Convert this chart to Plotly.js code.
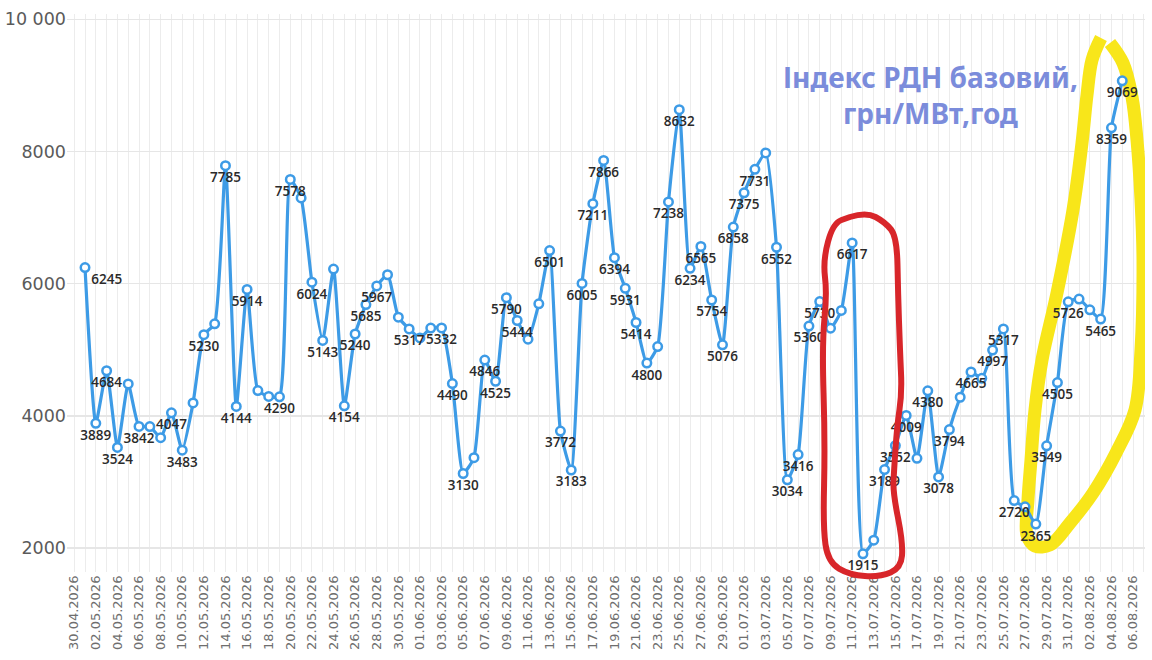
<!DOCTYPE html>
<html>
<head>
<meta charset="utf-8">
<script src="https://cdn.plot.ly/plotly-3.0.1.min.js"></script>
<style>
  html, body { margin: 0; padding: 0; background: #ffffff; }
  #graph { width: 1152px; height: 660px; }
</style>
</head>
<body>
<div id="graph"></div>
<script>
// daily base index, 01.05 - 05.08
var days = [
  '2026-05-01','2026-05-02','2026-05-03','2026-05-04','2026-05-05','2026-05-06','2026-05-07','2026-05-08',
  '2026-05-09','2026-05-10','2026-05-11','2026-05-12','2026-05-13','2026-05-14','2026-05-15','2026-05-16',
  '2026-05-17','2026-05-18','2026-05-19','2026-05-20','2026-05-21','2026-05-22','2026-05-23','2026-05-24',
  '2026-05-25','2026-05-26','2026-05-27','2026-05-28','2026-05-29','2026-05-30','2026-05-31',
  '2026-06-01','2026-06-02','2026-06-03','2026-06-04','2026-06-05','2026-06-06','2026-06-07','2026-06-08',
  '2026-06-09','2026-06-10','2026-06-11','2026-06-12','2026-06-13','2026-06-14','2026-06-15','2026-06-16',
  '2026-06-17','2026-06-18','2026-06-19','2026-06-20','2026-06-21','2026-06-22','2026-06-23','2026-06-24',
  '2026-06-25','2026-06-26','2026-06-27','2026-06-28','2026-06-29','2026-06-30',
  '2026-07-01','2026-07-02','2026-07-03','2026-07-04','2026-07-05','2026-07-06','2026-07-07','2026-07-08',
  '2026-07-09','2026-07-10','2026-07-11','2026-07-12','2026-07-13','2026-07-14','2026-07-15','2026-07-16',
  '2026-07-17','2026-07-18','2026-07-19','2026-07-20','2026-07-21','2026-07-22','2026-07-23','2026-07-24',
  '2026-07-25','2026-07-26','2026-07-27','2026-07-28','2026-07-29','2026-07-30','2026-07-31',
  '2026-08-01','2026-08-02','2026-08-03','2026-08-04','2026-08-05'
];

var mayValues = [6245, 3889, 4684, 3524, 4485, 3842, 3840, 3672, 4047, 3483, 4197, 5230, 5394, 7785, 4144, 5914,
                 4384, 4295, 4290, 7578, 7298, 6024, 5143, 6222, 4154, 5240, 5685, 5967, 6136, 5495, 5317];
var juneValues = [5180, 5330, 5332, 4490, 3130, 3369, 4846, 4525, 5790, 5444, 5162, 5697, 6501, 3772, 3183, 6005,
                  7211, 7866, 6394, 5931, 5414, 4800, 5050, 7238, 8632, 6234, 6565, 5754, 5076, 6858];
var julyValues = [7375, 7731, 7979, 6552, 3034, 3416, 5360, 5730, 5328, 5596, 6617, 1915, 2121, 3189, 3552, 4009,
                  3359, 4380, 3078, 3794, 4283, 4665, 4570, 4997, 5317, 2720, 2626, 2365, 3549, 4505, 5726];
var augValues = [5768, 5606, 5465, 8359, 9069];

// 1 = value is written under the point
var mayLabels  = [1,1,1,1,0,1,0,0,1,1,0,1,0,1,1,1,0,0,1,1,0,1,1,0,1,1,1,1,0,0,1];
var juneLabels = [0,0,1,1,1,0,1,1,1,1,0,0,1,1,1,1,1,1,1,1,1,1,0,1,1,1,1,1,1,1];
var julyLabels = [1,1,0,1,1,1,1,1,0,0,1,1,0,1,1,1,0,1,1,1,0,1,0,1,1,1,0,1,1,1,1];
var augLabels  = [0,0,1,1,1];

var yTickVals = [2000, 4000, 6000, 8000, 10000];
var yTickText = ['2000', '4000', '6000', '8000', '10 000'];

var titleText = 'Індекс РДН базовий,<br>грн/МВт,год';

var values = mayValues.concat(juneValues, julyValues, augValues);
var labelFlags = mayLabels.concat(juneLabels, julyLabels, augLabels);

var texts = values.map(function (v, i) { return labelFlags[i] ? String(v) : ''; });
var textPos = values.map(function (v, i) { return i === 0 ? 'bottom right' : 'bottom center'; });

var blue = '#3d9be6';

var plotLeft = 67, plotTop = 14, plotW = 1078, plotH = 558;
var xRange = ['2026-04-29 08:00', '2026-08-07 02:30'];
var yRange = [1640, 10080];

// hand drawn marks, traced in page pixels
var redLoop = [[850,217],[866,212],[885,222],[897,237],[898,293],[900,350],[902,393],[897,427],[894,470],
               [893,493],[903,543],[901,568],[880,577],[850,575],[828,562],[823,527],[825,443],[822,343],
               [827,293],[823,260],[833,223],[850,217]];
var yellowLoop = [[1110,43],[1123,63],[1132,97],[1137,140],[1141,200],[1143,260],[1141,350],[1135,410],
                  [1116,453],[1093,493],[1070,523],[1050,545],[1035,546],[1027,535],[1028,500],[1031,460],
                  [1035,410],[1042,360],[1057,293],[1073,210],[1082,143],[1087,95],[1092,60],[1101,38]];

function toPaper(p) {
    return [((p[0] - plotLeft) / plotW).toFixed(4), ((plotTop + plotH - p[1]) / plotH).toFixed(4)];
}
function smoothPath(pts, closed) {
    var p = pts.map(toPaper);
    var d = 'M' + p[0][0] + ',' + p[0][1];
    for (var i = 1; i < p.length - 1; i++) {
        var mx = ((+p[i][0] + +p[i + 1][0]) / 2).toFixed(4);
        var my = ((+p[i][1] + +p[i + 1][1]) / 2).toFixed(4);
        d += ' Q' + p[i][0] + ',' + p[i][1] + ' ' + mx + ',' + my;
    }
    d += ' L' + p[p.length - 1][0] + ',' + p[p.length - 1][1];
    if (closed) d += ' Z';
    return d;
}
// pixel -> axis units, so the highlighter can sit under the line as a trace
var x0ms = new Date(xRange[0].replace(' ', 'T') + 'Z').getTime();
var x1ms = new Date(xRange[1].replace(' ', 'T') + 'Z').getTime();
function pxToX(px) { return x0ms + (px - plotLeft) / plotW * (x1ms - x0ms); }
function pxToY(py) { return yRange[0] + (plotTop + plotH - py) / plotH * (yRange[1] - yRange[0]); }

var highlighter = {
    x: yellowLoop.map(function (p) { return pxToX(p[0]); }),
    y: yellowLoop.map(function (p) { return pxToY(p[1]); }),
    type: 'scatter',
    mode: 'lines',
    line: { color: '#f8e61a', width: 13, shape: 'spline', smoothing: 1 },
    cliponaxis: false,
    hoverinfo: 'skip',
    showlegend: false
};

var indexLine = {
    x: days,
    y: values,
    type: 'scatter',
    mode: 'lines+markers+text',
    line: { color: blue, width: 3.2, shape: 'spline', smoothing: 0.5 },
    marker: { symbol: 'circle', size: 8.5, color: '#ffffff', line: { color: blue, width: 2.5 } },
    text: texts,
    textposition: textPos,
    textfont: { family: 'Open Sans', size: 13.5, weight: 600, color: '#2a2a2a' },
    cliponaxis: false,
    hoverinfo: 'x+y',
    showlegend: false
};

var layout = {
    width: 1152,
    height: 660,
    margin: { l: plotLeft, r: 1152 - plotLeft - plotW, t: plotTop, b: 660 - plotTop - plotH },
    paper_bgcolor: '#ffffff',
    plot_bgcolor: '#ffffff',
    xaxis: {
        type: 'date',
        range: xRange,
        tick0: '2026-04-30',
        dtick: 2 * 86400000,
        tickformat: '%d.%m.%Y',
        tickangle: -90,
        tickfont: { family: 'DejaVu Sans', size: 13, color: '#6e6e6e' },
        showgrid: true,
        gridcolor: '#ececec',
        gridwidth: 1,
        minor: { dtick: 86400000, tick0: '2026-04-30', showgrid: true, gridcolor: '#ececec', gridwidth: 1 },
        zeroline: false,
        showline: false,
        ticks: ''
    },
    yaxis: {
        range: yRange,
        tickvals: yTickVals,
        ticktext: yTickText,
        tickfont: { family: 'DejaVu Sans', size: 17.5, color: '#5a5a5a' },
        showgrid: true,
        gridcolor: '#e6e6e6',
        gridwidth: 1.5,
        zeroline: false,
        showline: false,
        ticks: ''
    },
    annotations: [{
        text: titleText,
        xref: 'paper', yref: 'paper',
        x: (930 - plotLeft) / plotW,
        y: (plotTop + plotH - 95) / plotH,
        xanchor: 'center', yanchor: 'middle',
        showarrow: false,
        align: 'center',
        font: { family: 'Noto Sans', size: 28, weight: 700, color: '#7b8cdb' }
    }],
    shapes: [{
        type: 'path', xref: 'paper', yref: 'paper', layer: 'above',
        path: smoothPath(redLoop, true),
        line: { color: '#d8262a', width: 6 }
    }]
};

var config = { staticPlot: true };
Plotly.newPlot('graph', [highlighter, indexLine], layout, config);
</script>
</body>
</html>
